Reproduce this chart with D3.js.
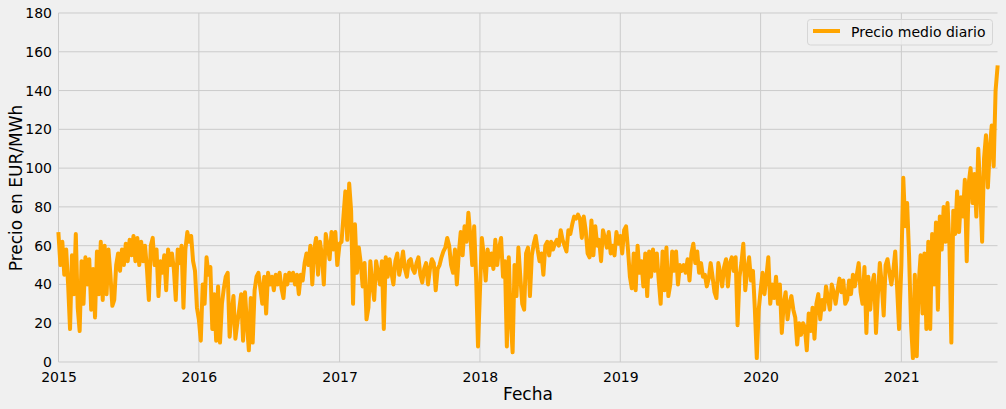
<!DOCTYPE html>
<html><head><meta charset="utf-8">
<script src="https://cdn.jsdelivr.net/npm/d3@7"></script>
<style>
html,body{margin:0;padding:0;background:#f0f0f0;}
svg{display:block;font-family:"DejaVu Sans",sans-serif;}
</style></head>
<body>
<svg id="chart" width="1006" height="409"></svg>
<script>
// Daily mean price (EUR/MWh), sampled every 5 days from Jan 1 of each year
const p2015 = [66,50,62,45,58,40,17,55,35,66, 28,16,52,30,54,40,53,27,48,23, 57,35,62,32,60,35,58,45,29,32, 50,56,47,58,50,61,52,63,55,65, 52,64,50,62,52,60,48,32,60,64, 50,58,34,52,46,55,37,58,50,56, 48,32,58,51,60,28,58,67,62,65, 52,47,28];
const p2016 = [22,11,40,30,54,45,49,17,35,11, 39,10,30,38,44,46,13,25,34,12, 20,27,35,11,36,20,6,33,10,37, 44,46,38,30,44,25,46,40,44,37, 45,40,46,38,33,45,40,46,42,46, 40,45,35,45,42,51,56,50,60,40, 58,64,45,62,55,40,66,60,53,67, 58,67,50];
const p2017 = [61,62,75,88,63,92,78,30,71,46, 59,51,39,51,22,28,52,40,32,52, 46,40,52,17,54,44,53,46,40,52, 56,45,50,57,48,44,52,53,48,46, 51,54,45,41,48,51,40,48,53,51, 37,48,50,54,57,59,64,60,50,46, 58,40,56,67,55,70,62,77,65,50, 70,44,8];
const p2018 = [36,64,55,42,58,50,56,48,63,50, 59,64,44,52,8,54,22,5,50,34, 59,44,30,27,56,59,34,55,61,65, 58,52,56,45,60,62,55,62,58,61, 63,60,68,63,60,57,68,66,71,75, 74,76,74,64,75,68,56,54,73,55, 70,60,63,52,68,64,59,67,56,60, 55,67,61];
const p2019 = [65,56,68,70,58,44,38,56,37,60, 46,52,39,56,34,57,44,58,47,56, 42,30,57,37,59,34,40,57,47,57, 40,50,47,50,46,53,42,56,61,51, 57,46,51,44,45,39,43,51,44,36, 33,51,46,39,49,53,39,51,54,47, 54,19,44,51,61,37,47,54,42,47, 27,2,27];
const p2020 = [37,46,35,44,54,30,40,33,44,30, 40,15,30,36,22,30,34,27,23,9, 20,14,20,18,6,25,16,28,12,30, 35,22,32,27,39,33,27,40,36,30, 37,43,36,42,30,32,42,35,45,39, 45,51,36,30,49,15,44,27,40,45, 15,35,51,40,24,50,53,46,40,47, 57,38,17];
const p2021 = [50,95,70,82,55,20,2,45,3,40, 55,25,56,17,62,17,66,40,72,27, 75,58,80,62,82,60,10,78,66,88, 67,85,75,94,52,92,100,82,97,75, 110,89,62,105,117,90,110,122,101,140, 152];
const years = [2015,2016,2017,2018,2019,2020,2021];
const seriesByYear = [p2015,p2016,p2017,p2018,p2019,p2020,p2021];
const stepDays = 5;
const yTicks = [0,20,40,60,80,100,120,140,160,180];
const xTickYears = [2015,2016,2017,2018,2019,2020,2021];
const legendLabel = "Precio medio diario";
const xLabel = "Fecha";
const yLabel = "Precio en EUR/MWh";

const data = [];
years.forEach((yr, k) => {
  seriesByYear[k].forEach((v, i) => {
    data.push({date: new Date(Date.UTC(yr, 0, 1 + stepDays * i)), value: v});
  });
});

const svg = d3.select("#chart");
const L = 58.5, R = 997.5, T = 13, B = 362;
const x = d3.scaleUtc().domain([new Date(Date.UTC(2015,0,1)), data[data.length-1].date]).range([L, R]);
const y = d3.scaleLinear().domain([0,180]).range([B, T]);

svg.append("rect").attr("width",1006).attr("height",409).attr("fill","#f0f0f0");

// grid
const g = svg.append("g");
g.selectAll("line.h").data(yTicks).join("line")
  .attr("x1", L).attr("x2", R).attr("y1", d=>y(d)).attr("y2", d=>y(d))
  .attr("stroke","#cbcbcb").attr("stroke-width",1);
const xt = xTickYears.map(yr => new Date(Date.UTC(yr,0,1)));
g.selectAll("line.v").data(xt).join("line")
  .attr("x1", d=>x(d)).attr("x2", d=>x(d)).attr("y1", T).attr("y2", B)
  .attr("stroke","#cbcbcb").attr("stroke-width",1);

// axes via d3 axes, styled
const yAxis = d3.axisLeft(y).tickValues(yTicks).tickSize(0).tickPadding(6);
const ya = svg.append("g").attr("transform",`translate(${L-0.5},0)`).call(yAxis);
ya.select(".domain").remove();
ya.selectAll("text").attr("font-size",14).attr("fill","#000").attr("font-family","DejaVu Sans");

const xAxis = d3.axisBottom(x).tickValues(xt).tickFormat(d3.utcFormat("%Y")).tickSize(0).tickPadding(10);
const xa = svg.append("g").attr("transform",`translate(0,${B})`).call(xAxis);
xa.select(".domain").remove();
xa.selectAll("text").attr("font-size",14).attr("fill","#000").attr("font-family","DejaVu Sans");

// line
const line = d3.line().x(d=>x(d.date)).y(d=>y(d.value));
svg.append("path").datum(data).attr("d", line)
  .attr("fill","none").attr("stroke","#ffa500").attr("stroke-width",4)
  .attr("stroke-linejoin","round").attr("stroke-linecap","square");

// labels
svg.append("text").attr("x", 528).attr("y", 400).attr("text-anchor","middle")
  .attr("font-size",17).attr("fill","#000").text(xLabel);
svg.append("text").attr("transform","translate(22,188) rotate(-90)").attr("text-anchor","middle")
  .attr("font-size",17).attr("fill","#000").text(yLabel);

// legend
const lg = svg.append("g");
lg.append("rect").attr("x",807.5).attr("y",19.5).attr("width",185).attr("height",25.5).attr("rx",3)
  .attr("fill","#f0f0f0").attr("fill-opacity",0.8).attr("stroke","#d6d6d6").attr("stroke-width",1);
lg.append("line").attr("x1",813).attr("x2",840).attr("y1",31).attr("y2",31)
  .attr("stroke","#ffa500").attr("stroke-width",4);
lg.append("text").attr("x",851).attr("y",36.5).attr("font-size",14).attr("fill","#000").text(legendLabel);
</script>
</body></html>
